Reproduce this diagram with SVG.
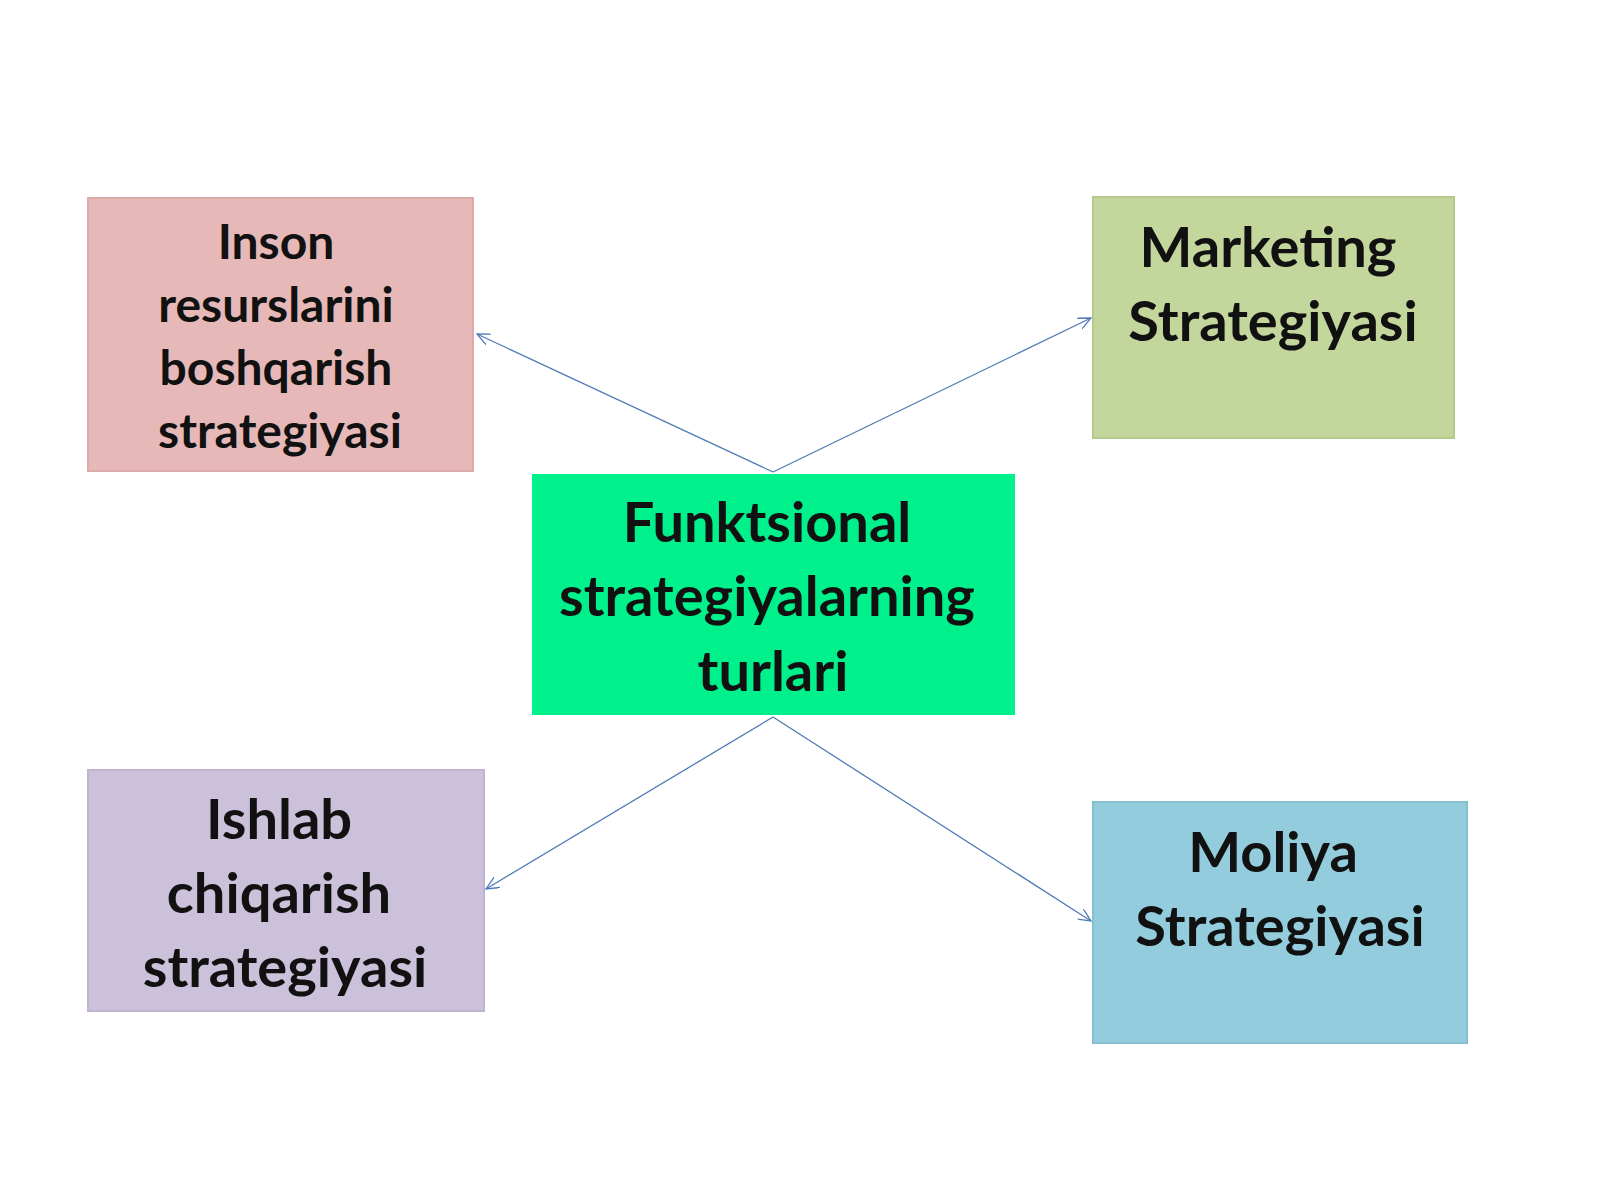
<svg xmlns="http://www.w3.org/2000/svg" width="1600" height="1200" viewBox="0 0 1600 1200">
<style>
text{font-family:Lato,"Liberation Sans",sans-serif;font-weight:bold;fill:#111;text-anchor:middle}
.s{font-size:48px}.l{font-size:56px}
.c{stroke:#4f7cb5;stroke-width:1.3;fill:none;marker-end:url(#a)}
</style>
<defs><marker id="a" markerWidth="14" markerHeight="12" refX="13" refY="6" orient="auto" markerUnits="userSpaceOnUse"><path d="M0,0L13,6L0,12" fill="none" stroke="#4f7cb5" stroke-width="1.3"/></marker></defs>
<rect width="1600" height="1200" fill="#fff"/>
<g id="connectors">
<line class="c" x1="773" y1="472" x2="477" y2="334"/>
<line class="c" x1="773" y1="472" x2="1091" y2="318"/>
<line class="c" x1="773" y1="717" x2="486" y2="889"/>
<line class="c" x1="773" y1="717" x2="1091" y2="921"/>
</g>
<g id="inson"><rect x="88" y="198" width="385" height="273" fill="#e6b9b8" stroke="#dcaaa9" stroke-width="2"/>
<text class="s" x="276" y="259">Inson</text><text class="s" x="276" y="322">resurslarini</text><text class="s" x="276" y="385">boshqarish</text><text class="s" x="280" y="448">strategiyasi</text></g>
<g id="marketing"><rect x="1093" y="197" width="361" height="241" fill="#c3d69b" stroke="#b5c98c" stroke-width="2"/>
<text class="l" x="1268" y="267">Marketing</text><text class="l" x="1273" y="341">Strategiyasi</text></g>
<g id="center"><rect x="532" y="474" width="483" height="241" fill="#00f08c"/>
<text class="l" x="767" y="542">Funktsional</text><text class="l" x="767" y="616">strategiyalarning</text><text class="l" x="773" y="691">turlari</text></g>
<g id="ishlab"><rect x="88" y="770" width="396" height="241" fill="#ccc1da" stroke="#bfb3cf" stroke-width="2"/>
<text class="l" x="279" y="839">Ishlab</text><text class="l" x="279" y="913">chiqarish</text><text class="l" x="285" y="987">strategiyasi</text></g>
<g id="moliya"><rect x="1093" y="802" width="374" height="241" fill="#93cddd" stroke="#86c0d0" stroke-width="2"/>
<text class="l" x="1273" y="872">Moliya</text><text class="l" x="1280" y="946">Strategiyasi</text></g>
</svg>
